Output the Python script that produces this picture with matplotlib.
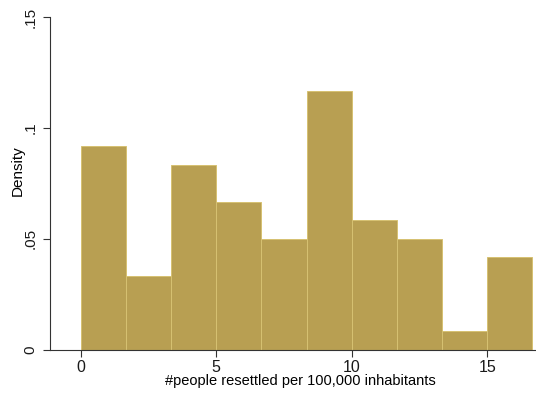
import numpy as np
import matplotlib.pyplot as plt

# histogram of resettlement rates, 10 bins
bin_edges = [0, 1.667, 3.333, 5.0, 6.667, 8.333, 10.0, 11.667, 13.333, 15.0, 16.667]
density = [0.0917, 0.0333, 0.0833, 0.0667, 0.05, 0.1167, 0.0583, 0.05, 0.0083, 0.0417]
xticks = [0, 5, 10, 15]
yticks = [0, 0.05, 0.1, 0.15]
ytick_labels = ["0", ".05", ".1", ".15"]

plt.rcParams['font.family'] = ['Liberation Sans', 'DejaVu Sans']
plt.rcParams['text.color'] = '#1a1a1a'
plt.rcParams['xtick.labelcolor'] = '#1a1a1a'
plt.rcParams['ytick.labelcolor'] = '#1a1a1a'

fig = plt.figure(figsize=(5.36, 3.94), dpi=100)
ax = fig.add_axes([0.093, 0.112, 0.907, 0.845])

left = np.array(bin_edges[:-1])
widths = np.diff(bin_edges)
ax.bar(left, density, width=widths, align='edge',
       color='#b89f52', edgecolor='#d6c172', linewidth=0.7)

ax.set_xlim(-1.14, 16.8)
ax.set_ylim(0, 0.15)
ax.set_xticks(xticks)
ax.set_yticks(yticks)
ax.set_yticklabels(ytick_labels, rotation=90, va='center')
ax.tick_params(axis='both', length=5, width=0.8, color='#333333')
ax.tick_params(axis='x', labelsize=11.5, pad=2.5)
ax.tick_params(axis='y', labelsize=11, pad=4)

ax.set_xlabel('#people resettled per 100,000 inhabitants', fontsize=10.5)
ax.xaxis.set_label_coords(0.516, -0.073)
ax.set_ylabel('Density', fontsize=11)
ax.yaxis.set_label_coords(-0.052, 0.537)

for s in ['top', 'right']:
    ax.spines[s].set_visible(False)
for s in ['left', 'bottom']:
    ax.spines[s].set_color('#333333')
    ax.spines[s].set_linewidth(0.8)

fig.savefig('out.png', dpi=100)
